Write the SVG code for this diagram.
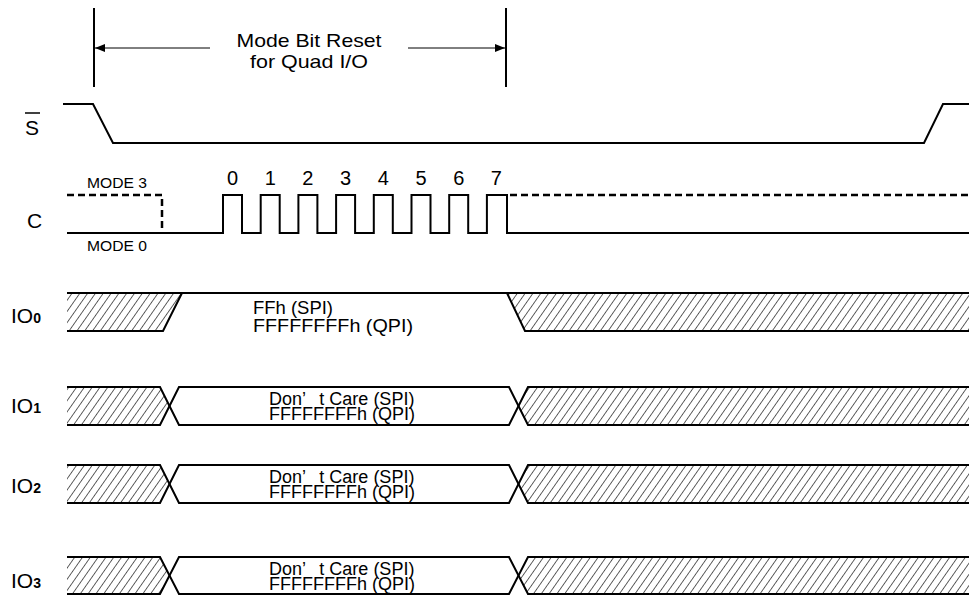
<svg xmlns="http://www.w3.org/2000/svg" width="969" height="595" viewBox="0 0 969 595">
<style>
text{font-family:"Liberation Sans",Arial,sans-serif;fill:#000}
.w{fill:none;stroke:#000;stroke-width:2;stroke-linejoin:miter}
.dash{fill:none;stroke:#000;stroke-width:2.5;stroke-dasharray:7 4}
.h{fill:url(#hatch);stroke:none}
.lbl{font-size:21px}
.sub{font-size:14px;font-weight:bold}
.num{font-size:20px;text-anchor:middle}
.mode{font-size:14.5px}
.io{font-size:18px}
</style>
<defs>
<pattern id="hatch" patternUnits="userSpaceOnUse" width="6.4" height="10" patternTransform="rotate(35)">
<line x1="3.2" y1="-1" x2="3.2" y2="11" stroke="#333" stroke-width="0.8"/>
</pattern>
<marker id="ah" viewBox="0 0 10 8" refX="10" refY="4" markerWidth="10" markerHeight="8" markerUnits="userSpaceOnUse" orient="auto-start-reverse">
<path d="M0,0 L10,4 L0,8 Z" fill="#000"/>
</marker>
</defs>
<rect width="969" height="595" fill="#fff"/>

<g id="connectors">
<line x1="94" y1="8" x2="94" y2="87" stroke="#000" stroke-width="2"/>
<line x1="506" y1="8" x2="506" y2="87" stroke="#000" stroke-width="2"/>
<line x1="210" y1="48" x2="95" y2="48" stroke="#000" stroke-width="1" marker-end="url(#ah)"/>
<line x1="408" y1="48" x2="505" y2="48" stroke="#000" stroke-width="1" marker-end="url(#ah)"/>
</g>
<g id="annotation">
<text x="309" y="47" font-size="18.5" text-anchor="middle" textLength="145" lengthAdjust="spacingAndGlyphs">Mode Bit Reset</text>
<text x="309" y="68" font-size="18.5" text-anchor="middle" textLength="118" lengthAdjust="spacingAndGlyphs">for Quad I/O</text>
</g>

<g id="sig-S">
<text class="lbl" x="25" y="135">S</text>
<line x1="25" y1="113" x2="40" y2="113" stroke="#000" stroke-width="1.5"/>
<path class="w" d="M63,104 H93 L113,143 H924 L943,104 H969"/>
</g>

<g id="sig-C">
<text class="lbl" x="27" y="228">C</text>
<text class="mode" x="87" y="188" textLength="60" lengthAdjust="spacingAndGlyphs">MODE 3</text>
<text class="mode" x="87" y="251" textLength="60" lengthAdjust="spacingAndGlyphs">MODE 0</text>
<path class="dash" d="M67,195 H162 V233"/>
<path class="dash" d="M510,195 H969"/>
<path class="w" d="M67,233 H223 V195 H242 V233 H260.7 V195 H279.7 V233 H298.4 V195 H317.4 V233 H336.1 V195 H355.1 V233 H373.8 V195 H392.8 V233 H411.5 V195 H430.5 V233 H449.2 V195 H468.2 V233 H486.9 V195 H507 V233 H969"/>
<text class="num" x="232.5" y="185">0</text>
<text class="num" x="270.2" y="185">1</text>
<text class="num" x="307.9" y="185">2</text>
<text class="num" x="345.6" y="185">3</text>
<text class="num" x="383.3" y="185">4</text>
<text class="num" x="421" y="185">5</text>
<text class="num" x="458.7" y="185">6</text>
<text class="num" x="496.4" y="185">7</text>
</g>

<g id="sig-IO0">
<text class="lbl" x="11" y="323">IO<tspan class="sub">0</tspan></text>
<path class="h" d="M67,293 H182 L163,331 H67 Z"/>
<path class="h" d="M507,293 H969 V331 H525 Z"/>
<path class="w" d="M67,293 H969"/>
<path class="w" d="M67,331 H163 L182,293"/>
<path class="w" d="M507,293 L525,331 H969"/>
<text x="253" y="314" font-size="19" textLength="80" lengthAdjust="spacingAndGlyphs">FFh (SPI)</text>
<text x="253" y="332" font-size="19" textLength="160" lengthAdjust="spacingAndGlyphs">FFFFFFFFh (QPI)</text>
</g>

<g id="sig-IO1">
<text class="lbl" x="11" y="413">IO<tspan class="sub">1</tspan></text>
<path class="h" d="M67,387 H160 L169.5,406 L160,425 H67 Z"/>
<path class="h" d="M528,387 H969 V425 H528 L518.5,406 Z"/>
<path class="w" d="M67,387 H160 L179,425 H509 L528,387 H969"/>
<path class="w" d="M67,425 H160 L179,387 H509 L528,425 H969"/>
<text class="io" x="269" y="405">Don’<tspan dx="9"> t Care (SPI)</tspan></text>
<text class="io" x="269" y="420">FFFFFFFFh (QPI)</text>
</g>

<g id="sig-IO2">
<text class="lbl" x="11" y="493">IO<tspan class="sub">2</tspan></text>
<path class="h" d="M67,465 H160 L169.5,484 L160,503 H67 Z"/>
<path class="h" d="M528,465 H969 V503 H528 L518.5,484 Z"/>
<path class="w" d="M67,465 H160 L179,503 H509 L528,465 H969"/>
<path class="w" d="M67,503 H160 L179,465 H509 L528,503 H969"/>
<text class="io" x="269" y="483">Don’<tspan dx="9"> t Care (SPI)</tspan></text>
<text class="io" x="269" y="498">FFFFFFFFh (QPI)</text>
</g>

<g id="sig-IO3">
<text class="lbl" x="11" y="588">IO<tspan class="sub">3</tspan></text>
<path class="h" d="M67,557 H160 L169.5,575.5 L160,594 H67 Z"/>
<path class="h" d="M528,557 H969 V594 H528 L518.5,575.5 Z"/>
<path class="w" d="M67,557 H160 L179,594 H509 L528,557 H969"/>
<path class="w" d="M67,594 H160 L179,557 H509 L528,594 H969"/>
<text class="io" x="269" y="575">Don’<tspan dx="9"> t Care (SPI)</tspan></text>
<text class="io" x="269" y="590">FFFFFFFFh (QPI)</text>
</g>
</svg>
